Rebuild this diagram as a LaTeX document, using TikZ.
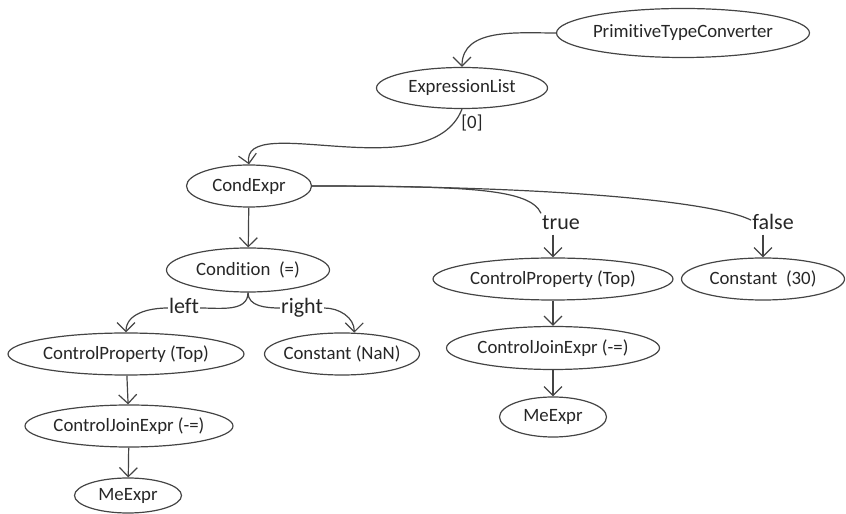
\documentclass[tikz,border=0pt]{standalone}
\usepackage{fontspec}
\setmainfont{Carlito}[Ligatures=NoCommon]
\usepackage{xcolor}
\usepackage{tikz}
\usetikzlibrary{arrows.meta,shapes.geometric}
\definecolor{inkgray}{HTML}{262626}
\definecolor{edgegray}{HTML}{444444}
\newcommand{\asttext}[1]{\makebox[0pt]{#1}}

\begin{document}
\begin{tikzpicture}[x=1pt, y=1pt,
  ast/.style={ellipse, draw=edgegray, line width=1.2pt, inner sep=0pt, minimum height=42pt, text=inkgray, font=\fontsize{18.8}{22}\selectfont},
  edgelbl/.style={fill=white, inner sep=1pt, text=inkgray, text height=15pt, text depth=4pt, font=\fontsize{22}{26}\selectfont},
  link/.style={-{Straight Barb[length=9pt,width=18pt]}, line width=1.2pt, draw=edgegray}]
\useasboundingbox (0,0) rectangle (846,514);

% Draw the tree nodes
\node[ast, minimum width=253pt, minimum height=49pt] (ptc) at (683,481) {\asttext{PrimitiveTypeConverter}};
\node[ast, minimum width=171pt, minimum height=41pt] (exl) at (462,426) {\asttext{ExpressionList}};
\node[ast, minimum width=125pt] (cnd) at (249,328) {\asttext{CondExpr}};
\node[ast, minimum width=163pt, minimum height=44pt] (cdn) at (248,244) {\asttext{Condition\ \ (=)}};
\node[ast, minimum width=236pt] (cpl) at (126,160) {\asttext{ControlProperty (Top)}};
\node[ast, minimum width=155pt] (cnn) at (342,160) {\asttext{Constant (NaN)}};
\node[ast, minimum width=208pt] (cjl) at (129,88) {\asttext{ControlJoinExpr (-=)}};
\node[ast, minimum width=107pt, minimum height=35pt] (mel) at (128,18.5) {\asttext{MeExpr}};
\node[ast, minimum width=240pt] (cpr) at (553,235) {\asttext{ControlProperty (Top)}};
\node[ast, minimum width=163pt] (cth) at (763,235) {\asttext{Constant\ \ (30)}};
\node[ast, minimum width=213pt, minimum height=43pt] (cjr) at (553,166) {\asttext{ControlJoinExpr (-=)}};
\node[ast, minimum width=107pt, minimum height=40pt] (mer) at (553,97) {\asttext{MeExpr}};

% Edge labels
\node[text=inkgray, inner sep=0pt, font=\fontsize{18.8}{22}\selectfont] (idx) at (472,391) {[0]};
\node[edgelbl] (lblTrue) at (561,290) {true};
\node[edgelbl] (lblFalse) at (773,290) {false};
\node[edgelbl] (lblLeft) at (184,206) {left};
\node[edgelbl] (lblRight) at (302,206) {right};

% Connectors
\draw[link] (ptc.west) to[out=180, in=90] (exl.north);
\draw[link] (exl.south) .. controls (430,324) and (240,404) .. (cnd.north);
\draw[link, -] (cnd.east) .. controls (470,328) and (530,325) .. (lblTrue.north west);
\draw[link, -] (cnd.east) .. controls (560,328) and (715,312) .. (lblFalse.170);
\draw[link] (lblTrue.south -| cpr.north) -- (cpr.north);
\draw[link] (lblFalse.south -| cth.north) -- (cth.north);
\draw[link] (cdn.south) to[out=-90, in=0] (lblLeft.east) (lblLeft.west) to[out=180, in=90] (cpl.north);
\draw[link] (cdn.south) to[out=-90, in=180] (lblRight.west) (lblRight.east) to[out=0, in=90] (cnn.60);
\foreach \src/\dst in {cnd/cdn, cpl/cjl, cjl/mel, cpr/cjr, cjr/mer}
  \draw[link] (\src) -- (\dst);

\end{tikzpicture}
\end{document}
